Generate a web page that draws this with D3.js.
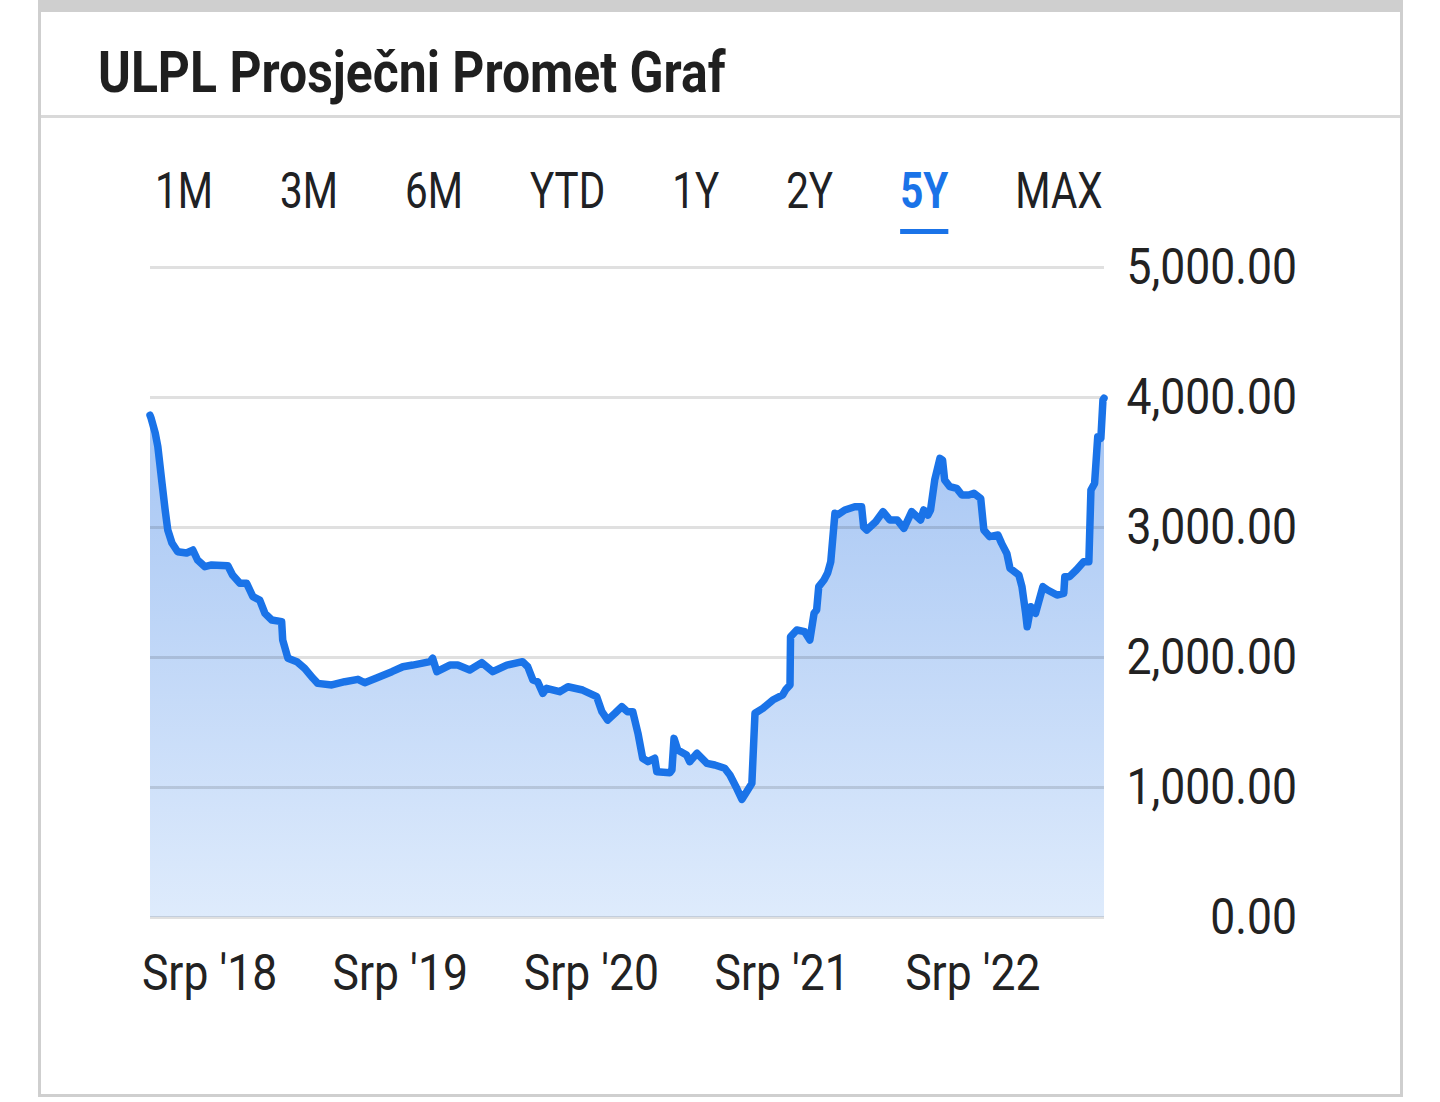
<!DOCTYPE html>
<html>
<head>
<meta charset="utf-8">
<script src="https://cdn.jsdelivr.net/npm/d3@7"></script>
<style>
  body { margin: 0; background: #fff; }
  text { font-family: Roboto, "Noto Sans", sans-serif; }
</style>
</head>
<body>
<div id="chart"></div>
<script>
// Data: average turnover (5Y view)
const dates = [
  "2018-03-10","2018-03-12","2018-03-20","2018-03-25","2018-04-02","2018-04-08","2018-04-13","2018-04-21",
  "2018-05-02","2018-05-19","2018-05-31","2018-06-09","2018-06-23","2018-07-06","2018-08-06","2018-08-15",
  "2018-08-29","2018-09-11","2018-09-23","2018-10-06","2018-10-16","2018-10-29","2018-11-17","2018-11-19",
  "2018-11-29","2018-12-16","2018-12-31","2019-01-16","2019-01-25","2019-02-21","2019-03-18","2019-04-12",
  "2019-04-25","2019-05-20","2019-06-16","2019-07-07","2019-07-26","2019-08-28","2019-09-02","2019-09-10",
  "2019-10-05","2019-10-20","2019-11-12","2019-12-05","2019-12-26","2020-01-22","2020-02-21","2020-03-02",
  "2020-03-12","2020-03-21","2020-03-31","2020-04-07","2020-05-02","2020-05-18","2020-06-15","2020-07-12",
  "2020-07-22","2020-08-02","2020-08-16","2020-08-29","2020-09-09","2020-09-19","2020-09-29","2020-10-08",
  "2020-10-18","2020-10-31","2020-11-04","2020-11-29","2020-12-03","2020-12-07","2020-12-14","2020-12-31",
  "2021-01-06","2021-01-20","2021-02-08","2021-02-23","2021-03-14","2021-03-24","2021-04-06","2021-04-16",
  "2021-04-25","2021-05-05","2021-05-11","2021-05-26","2021-06-14","2021-07-03","2021-07-09","2021-07-17",
  "2021-07-18","2021-07-30","2021-08-14","2021-08-24","2021-09-01","2021-09-06","2021-09-10","2021-09-20",
  "2021-09-27","2021-10-03","2021-10-11","2021-10-16","2021-10-30","2021-11-18","2021-12-01","2021-12-05",
  "2021-12-11","2021-12-28","2022-01-11","2022-01-24","2022-02-07","2022-02-20","2022-03-07","2022-03-24",
  "2022-03-30","2022-04-07","2022-04-12","2022-04-20","2022-04-30","2022-05-05","2022-05-09","2022-05-19",
  "2022-06-01","2022-06-11","2022-06-24","2022-07-04","2022-07-17","2022-07-23","2022-08-03","2022-08-19",
  "2022-08-26","2022-09-05","2022-09-11","2022-09-28","2022-10-04","2022-10-11","2022-10-14","2022-10-21",
  "2022-10-30","2022-11-13","2022-11-22","2022-12-10","2022-12-23","2022-12-25","2023-01-03","2023-01-16",
  "2023-01-30","2023-02-09","2023-02-13","2023-02-20","2023-02-26","2023-03-04","2023-03-08","2023-03-10"
];
const values = [
  3860, 3838, 3723, 3618, 3338, 3131, 2977, 2877,
  2810, 2800, 2823, 2746, 2695, 2708, 2702, 2631,
  2567, 2567, 2464, 2438, 2336, 2285, 2272, 2131,
  1990, 1964, 1913, 1836, 1797, 1785, 1810, 1828,
  1802, 1843, 1887, 1925, 1938, 1964, 1990, 1887,
  1938, 1938, 1900, 1957, 1887, 1938, 1964, 1925,
  1823, 1810, 1720, 1759, 1733, 1771, 1746, 1695,
  1579, 1515, 1567, 1618, 1579, 1579, 1413, 1221,
  1195, 1221, 1118, 1110, 1131, 1374, 1285, 1246,
  1195, 1259, 1182, 1169, 1144, 1092, 990, 905,
  963, 1028, 1567, 1605, 1669, 1708, 1750, 1785,
  2156, 2208, 2195, 2131, 2336, 2362, 2541, 2592,
  2646, 2733, 3105, 3092, 3131, 3156, 3156, 3000,
  2977, 3041, 3118, 3054, 3054, 2990, 3118, 3054,
  3131, 3092, 3131, 3362, 3528, 3515, 3362, 3310,
  3297, 3246, 3246, 3259, 3220, 2977, 2926, 2938,
  2874, 2797, 2682, 2631, 2541, 2336, 2233, 2387,
  2336, 2541, 2515, 2477, 2490, 2618, 2618, 2669,
  2733, 2733, 3285, 3336, 3695, 3682, 3977, 3990
];
const rangeTabs = ["1M", "3M", "6M", "YTD", "1Y", "2Y", "5Y", "MAX"];
const activeTab = "5Y";
const yTicks = [0, 1000, 2000, 3000, 4000, 5000];
const xTickDates = ["2018-07-01", "2019-07-01", "2020-07-01", "2021-07-01", "2022-07-01"];
const monthNames = ["Sij", "Velj", "Ožu", "Tra", "Svi", "Lip", "Srp", "Kol", "Ruj", "Lis", "Stu", "Pro"];
const domainDates = ["2018-03-10", "2023-03-10"];

const W = 1440, H = 1102;
const plot = {left: 150, right: 1104, top: 267, bottom: 917};
const blue = "#1a73e8";

const parse = d3.timeParse("%Y-%m-%d");
const data = dates.map((d, i) => ({date: parse(d), value: values[i]}));

// squeeze text horizontally to mimic a condensed face
function condense(sel, k) {
  sel.each(function() {
    const w = this.getComputedTextLength();
    d3.select(this).attr("textLength", w * k).attr("lengthAdjust", "spacingAndGlyphs");
  });
}

const svg = d3.select("#chart").append("svg")
    .attr("width", W)
    .attr("height", H);

// Card frame
svg.append("rect").attr("x", 0).attr("y", 0).attr("width", W).attr("height", H).attr("fill", "#fff");
svg.append("rect").attr("x", 38).attr("y", 0).attr("width", 1365).attr("height", 12).attr("fill", "#cfcfcf");
svg.append("rect").attr("x", 38).attr("y", 0).attr("width", 3).attr("height", 1097).attr("fill", "#cfcfcf");
svg.append("rect").attr("x", 1400).attr("y", 0).attr("width", 3).attr("height", 1097).attr("fill", "#cfcfcf");
svg.append("rect").attr("x", 38).attr("y", 1094).attr("width", 1365).attr("height", 3).attr("fill", "#cfcfcf");
svg.append("rect").attr("x", 41).attr("y", 115).attr("width", 1359).attr("height", 3).attr("fill", "#d9d9d9");

// Title
const title = svg.append("text")
    .attr("x", 98)
    .attr("y", 92)
    .attr("font-size", 57)
    .attr("font-weight", 700)
    .attr("fill", "#1f1f1f")
    .text("ULPL Prosječni Promet Graf");
condense(title, 0.875);

// Range tabs
let tx = 155;
rangeTabs.forEach(t => {
  const active = t === activeTab;
  const el = svg.append("text")
      .attr("x", tx)
      .attr("y", 208)
      .attr("font-size", 50)
      .attr("font-weight", active ? 700 : 400)
      .attr("fill", active ? blue : "#202124")
      .text(t);
  condense(el, 0.808);
  const w = +el.attr("textLength");
  if (active) {
    svg.append("rect").attr("x", tx).attr("y", 229).attr("width", w).attr("height", 5).attr("fill", blue);
  }
  tx += w + 67;
});

// Scales
const x = d3.scaleTime()
    .domain(domainDates.map(parse))
    .range([plot.left, plot.right]);
const y = d3.scaleLinear()
    .domain([0, 5000])
    .range([plot.bottom, plot.top]);

// Area gradient
const defs = svg.append("defs");
const grad = defs.append("linearGradient")
    .attr("id", "areaFill")
    .attr("gradientUnits", "userSpaceOnUse")
    .attr("x1", 0).attr("x2", 0)
    .attr("y1", y(4000)).attr("y2", y(0));
grad.append("stop").attr("offset", "0%").attr("stop-color", "#a4c4f3");
grad.append("stop").attr("offset", "100%").attr("stop-color", "#deebfc");

const area = d3.area()
    .x(d => x(d.date))
    .y0(y(0))
    .y1(d => y(d.value));
svg.append("path")
    .datum(data)
    .attr("d", area)
    .attr("fill", "url(#areaFill)");

// Gridlines
const grid = svg.append("g")
    .attr("transform", `translate(${plot.left},0)`)
    .call(d3.axisLeft(y).tickValues(yTicks).tickSize(-(plot.right - plot.left)).tickFormat(""));
grid.select(".domain").remove();
grid.selectAll(".tick line")
    .attr("stroke", "rgba(0,0,0,0.12)")
    .attr("stroke-width", 3);

// Line
const line = d3.line()
    .x(d => x(d.date))
    .y(d => y(d.value));
svg.append("path")
    .datum(data)
    .attr("d", line)
    .attr("fill", "none")
    .attr("stroke", blue)
    .attr("stroke-width", 7.5)
    .attr("stroke-linejoin", "round")
    .attr("stroke-linecap", "round");

// Y axis labels (right side)
const yAxis = svg.append("g")
    .attr("transform", `translate(${plot.right},0)`)
    .call(d3.axisRight(y).tickValues(yTicks).tickSize(0).tickFormat(d3.format(",.2f")));
yAxis.select(".domain").remove();
yAxis.selectAll(".tick text")
    .attr("x", 193)
    .attr("text-anchor", "end")
    .attr("font-family", "Roboto, sans-serif")
    .attr("font-size", 50)
    .attr("fill", "#222");
condense(yAxis.selectAll(".tick text"), 0.89);

// X axis labels
const xAxis = svg.append("g")
    .attr("transform", `translate(0,${plot.bottom})`)
    .call(d3.axisBottom(x)
      .tickValues(xTickDates.map(parse))
      .tickSize(0)
      .tickFormat(d => monthNames[d.getMonth()] + " '" + d3.timeFormat("%y")(d)));
xAxis.select(".domain").remove();
xAxis.selectAll(".tick text")
    .attr("y", 73)
    .attr("dy", 0)
    .attr("font-family", "Roboto, sans-serif")
    .attr("font-size", 50)
    .attr("fill", "#222");
condense(xAxis.selectAll(".tick text"), 0.89);
</script>
</body>
</html>
